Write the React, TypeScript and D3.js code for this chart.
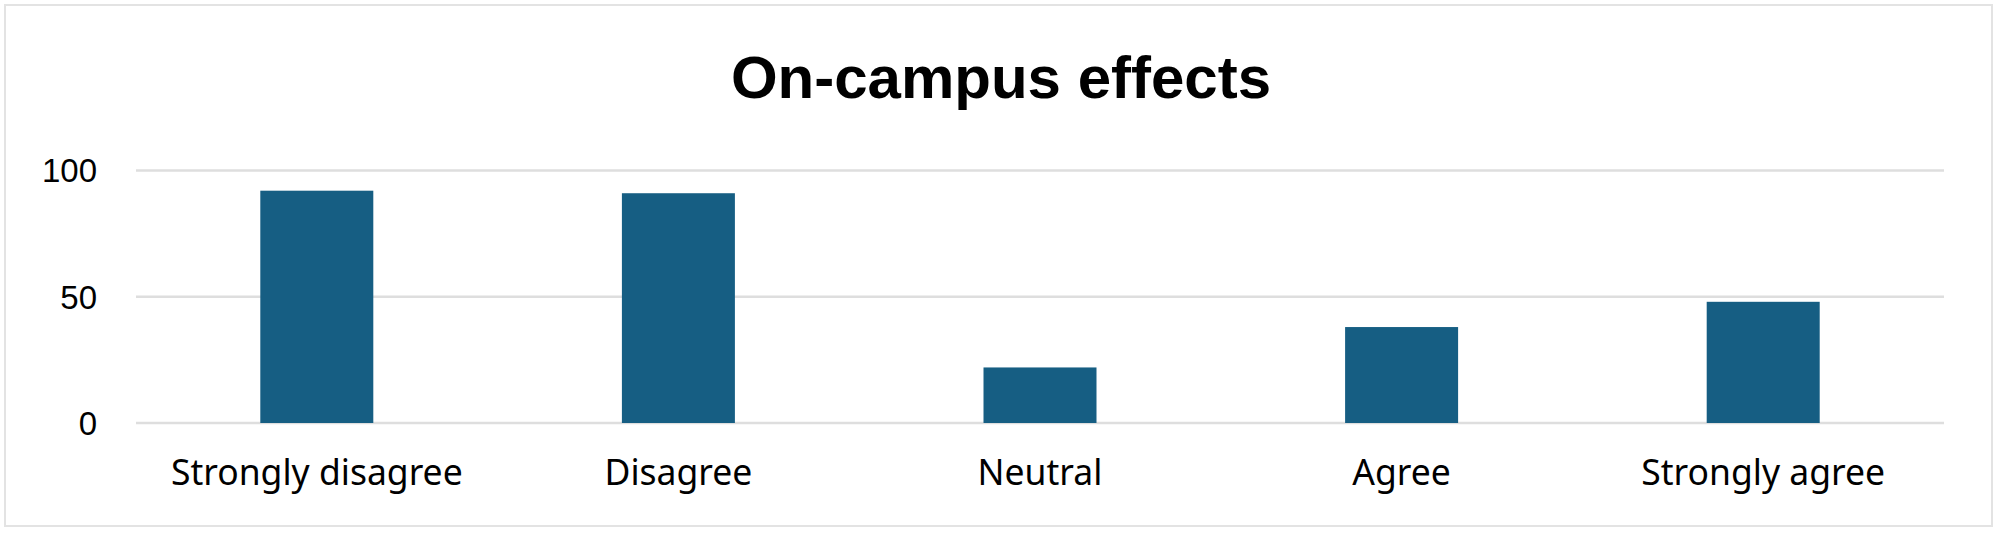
import React from "react";
import * as d3 from "d3";

const categories: string[] = ["Strongly disagree", "Disagree", "Neutral", "Agree", "Strongly agree"];
const values: number[] = [92, 91, 22, 38, 48];
const yTicks: number[] = [0, 50, 100];
const title = "On-campus effects";

const W = 1999;
const H = 533;
const plot = { left: 136, right: 1944, top: 170.5, bottom: 423 };

export default function App() {
  const x = d3
    .scaleBand<string>()
    .domain(categories)
    .range([plot.left, plot.right])
    .paddingInner(0.6875)
    .paddingOuter(0.34375);
  const y = d3.scaleLinear().domain([0, 100]).range([plot.bottom, plot.top]);

  return (
    <svg
      width={W}
      height={H}
      style={{ position: "absolute", left: 0, top: 0, background: "#fff" }}
    >
      <rect x={5} y={5} width={1987} height={521} fill="#fff" stroke="#e3e3e3" strokeWidth={2} />
      <text
        x={1001}
        y={98}
        textAnchor="middle"
        fontFamily="'Liberation Sans', Arial, sans-serif"
        fontWeight="bold"
        fontSize={60}
        fill="#000"
      >
        {title}
      </text>
      {yTicks.map((t) => (
        <g key={t}>
          <line
            x1={plot.left}
            x2={plot.right}
            y1={y(t)}
            y2={y(t)}
            stroke="#dedede"
            strokeWidth={2.5}
          />
          <text
            x={97}
            y={y(t)}
            dy="0.36em"
            textAnchor="end"
            fontFamily="'Liberation Sans', Arial, sans-serif"
            fontSize={33}
            fill="#000"
          >
            {t}
          </text>
        </g>
      ))}
      {categories.map((c, i) => (
        <rect
          key={c}
          x={x(c)!}
          y={y(values[i])}
          width={x.bandwidth()}
          height={y(0) - y(values[i])}
          fill="#165E83"
        />
      ))}
      {categories.map((c) => (
        <text
          key={c}
          x={x(c)! + x.bandwidth() / 2}
          y={485}
          textAnchor="middle"
          fontFamily="'Noto Sans', sans-serif"
          fontSize={35.5}
          fill="#000"
        >
          {c}
        </text>
      ))}
    </svg>
  );
}
